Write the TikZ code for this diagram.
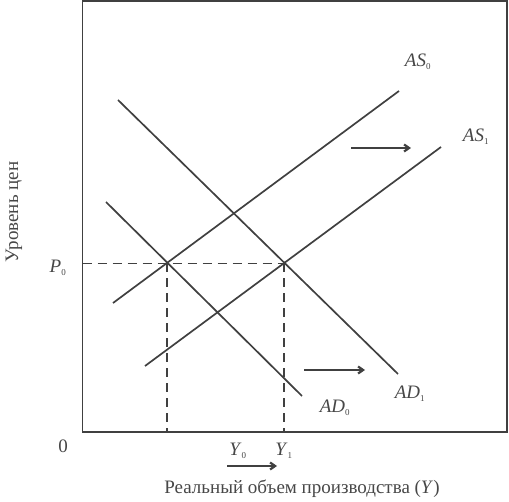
\documentclass[tikz,border=0pt]{standalone}
\usepackage{fontspec}
\setmainfont{Liberation Serif}
\usetikzlibrary{arrows.meta}
\definecolor{ink}{gray}{0.25}
\definecolor{txt}{gray}{0.28}
\tikzset{
  curve/.style={draw=ink, line width=1.7pt},
  guide/.style={draw=ink, line width=1.1pt, dash pattern=on 9pt off 6pt},
  shiftarrow/.style={draw=ink, line width=2.2pt, -{Straight Barb[length=5pt,width=7pt]}},
  lab/.style={text=txt, font=\fontsize{19}{22}\selectfont, inner sep=0pt}
}
\newcommand{\lbl}[2]{\textit{#1}\textsubscript{\fontsize{9}{10}\selectfont #2}}
\begin{document}
\begin{tikzpicture}[x=1pt,y=-1pt]
\useasboundingbox (0,0) rectangle (509,502);
% frame
\draw[ink, line width=1.1pt] (82.5,1) rectangle (507,432);
% curves
\coordinate (as0a) at (113,303); \coordinate (as0b) at (399,91);
\coordinate (as1a) at (145,366); \coordinate (as1b) at (441,147);
\coordinate (ad1a) at (118,100); \coordinate (ad1b) at (398,374);
\coordinate (ad0a) at (106,202); \coordinate (ad0b) at (302,396);
\draw[curve] (as0a) -- (as0b);
\draw[curve] (as1a) -- (as1b);
\draw[curve] (ad1a) -- (ad1b);
\draw[curve] (ad0a) -- (ad0b);
% guides
\coordinate (pl) at (82.5,263.5);
\coordinate (e0) at (167,263.5);
\coordinate (e1) at (284,263.5);
\coordinate (b0) at (167,432);
\coordinate (b1) at (284,432);
\draw[guide] (pl) -- (e1);
\draw[guide] (e0) -- (b0);
\draw[guide] (e1) -- (b1);
% shift arrows
\coordinate (t1) at (351,148); \coordinate (t2) at (411,148);
\coordinate (m1) at (304,370); \coordinate (m2) at (365,370);
\coordinate (x1) at (227,466); \coordinate (x2) at (277,466);
\draw[shiftarrow] (t1) -- (t2);
\draw[shiftarrow] (m1) -- (m2);
\draw[shiftarrow] (x1) -- (x2);
% labels
\node[lab] (las0) at (418,62) {\lbl{AS}{0}};
\node[lab] (las1) at (476,137) {\lbl{AS}{1}};
\node[lab] (lad1) at (410,394) {\lbl{AD}{1}};
\node[lab] (lad0) at (335,408) {\lbl{AD}{0}};
\node[lab] (lp0) at (58,268) {\lbl{P}{0}};
\node[lab] (lzero) at (63,446) {0};
\node[lab] (ly0) at (238,451) {\lbl{Y}{0}};
\node[lab] (ly1) at (284,451) {\lbl{Y}{1}};
\node[lab] (lx) at (302,489) {Реальный объем производства (\textit{Y})};
\node[lab, rotate=90] (ly) at (14,212) {Уровень цен};
\end{tikzpicture}
\end{document}
